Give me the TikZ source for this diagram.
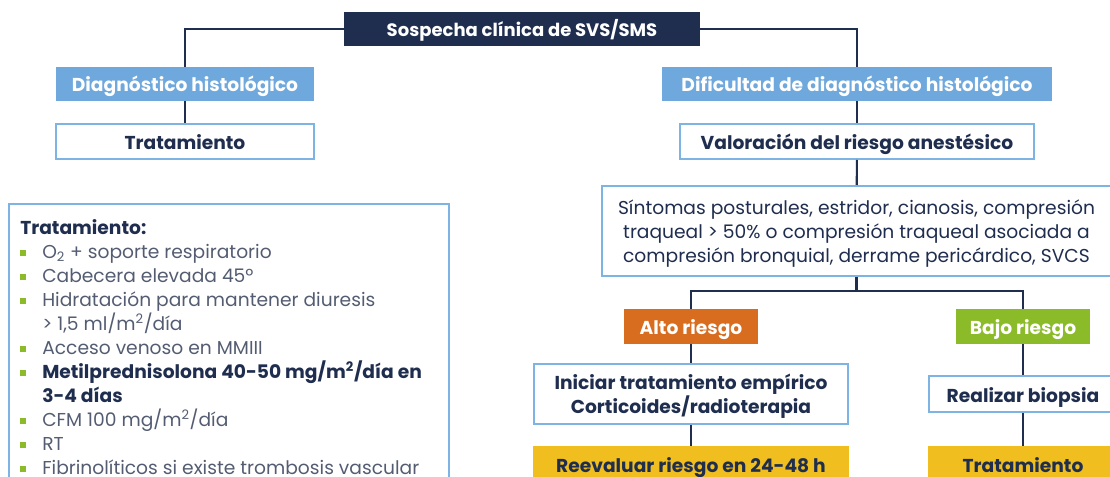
\documentclass[tikz,border=0pt]{standalone}
\usepackage{fontspec}
\setmainfont{Poppins}
\usepackage{xcolor}
\usepackage{tikz}
\usetikzlibrary{positioning}
\definecolor{navy}{HTML}{1F2D4E}
\definecolor{lightblue}{HTML}{6FA8DC}
\definecolor{frameblue}{HTML}{7EB4E4}
\definecolor{riskorange}{HTML}{D86C1F}
\definecolor{riskgreen}{HTML}{8CBB29}
\definecolor{checkyellow}{HTML}{F0BE1E}
\definecolor{bodygrey}{HTML}{535C71}
\newcommand{\itm}[1]{\par\hangindent=16.5pt\hangafter=1\noindent\makebox[16.5pt][l]{\textcolor{riskgreen}{\rule[2pt]{4.5pt}{4.5pt}}}#1}

\begin{document}
\begin{tikzpicture}[x=0.75pt, y=-0.75pt,
    every node/.style={font=\bfseries\fontsize{14}{18}\selectfont, text=navy, inner sep=0pt, align=center},
    oneline/.style={text height=12pt, text depth=0pt},
    headbox/.style={oneline, fill=navy, text=white, minimum width=267pt, minimum height=25.5pt},
    bluebox/.style={oneline, fill=lightblue, text=white, minimum height=25.5pt},
    framebox/.style={draw=frameblue, line width=1.5pt, fill=white, minimum height=26pt},
    riskbox/.style={oneline, text=white, minimum height=26pt},
    yellowbox/.style={oneline, fill=checkyellow, minimum height=27pt},
    link/.style={draw=navy, line width=1.6pt}]
    \useasboundingbox (0,0) rectangle (1110,477);
    \clip (0,0) rectangle (1110,477);

    \node[headbox, font=\bfseries\fontsize{13.5}{18}\selectfont] (top) at (522,29) {Sospecha clínica de SVS/SMS};
    \node[bluebox, minimum width=193.5pt] (diag) at (185,84) {Diagnóstico histológico};
    \node[framebox, oneline, minimum width=193pt] (trat) at (185,141.5) {Tratamiento};
    \node[bluebox, minimum width=292.5pt] (dific) at (857,84) {Dificultad de diagnóstico histológico};
    \node[framebox, oneline, minimum width=265.5pt] (valor) at (857,141.5) {Valoración del riesgo anestésico};
    \node[framebox, minimum width=382pt, minimum height=67.5pt, text depth=0pt,
          font=\mdseries\fontsize{14}{18}\selectfont] (sint) at (856.5,231)
        {Síntomas posturales, estridor, cianosis, compresión\\
         traqueal > 50\% o compresión traqueal asociada a\\
         compresión bronquial, derrame pericárdico, SVCS};
    \coordinate (split) at (856.5,291);
    \node[riskbox, fill=riskorange, minimum width=100.5pt] (alto) at (691,326.5) {Alto riesgo};
    \node[riskbox, fill=riskgreen, minimum width=101pt] (bajo) at (1023,326.5) {Bajo riesgo};
    \node[framebox, minimum width=235.5pt, minimum height=45pt, text depth=0pt] (inic) at (691,394)
        {Iniciar tratamiento empírico\\Corticoides/radioterapia};
    \node[framebox, oneline, minimum width=141pt, minimum height=27pt] (biop) at (1023,394) {Realizar biopsia};
    \node[yellowbox, minimum width=237pt] (reev) at (691,464) {Reevaluar riesgo en 24-48 h};
    \node[yellowbox, minimum width=142.5pt] (trat2) at (1023,464) {Tratamiento};

    \draw[link] (top.west) -| (diag.north);
    \draw[link] (top.east) -| (dific.north);
    \draw[link] (diag) -- (trat);
    \draw[link] (dific) -- (valor);
    \draw[link] (valor) -- (sint);
    \draw[link] (sint) -- (split);
    \draw[link] (alto.north) |- (split) -| (bajo.north);
    \draw[link] (alto) -- (inic);
    \draw[link] (inic) -- (reev);
    \draw[link] (bajo) -- (biop);
    \draw[link] (biop) -- (trat2);

    \draw[draw=frameblue, line width=1.5pt] (9,204) rectangle (449,540);
    \node[anchor=north west, align=left, text=bodygrey] (lista) at (20,219)
        {\begin{minipage}{310pt}\mdseries\fontsize{14}{18}\selectfont
         \textcolor{navy}{\bfseries Tratamiento:}
         \itm{O\textsubscript{2} + soporte respiratorio}
         \itm{Cabecera elevada 45º}
         \itm{Hidratación para mantener diuresis\\ > 1,5 ml/m\textsuperscript{2}/día}
         \itm{Acceso venoso en MMIII}
         \itm{\textcolor{navy}{\bfseries Metilprednisolona 40-50 mg/m\textsuperscript{2}/día en\\ 3-4 días}}
         \itm{CFM 100 mg/m\textsuperscript{2}/día}
         \itm{RT}
         \itm{Fibrinolíticos si existe trombosis vascular}
         \end{minipage}};
\end{tikzpicture}
\end{document}
